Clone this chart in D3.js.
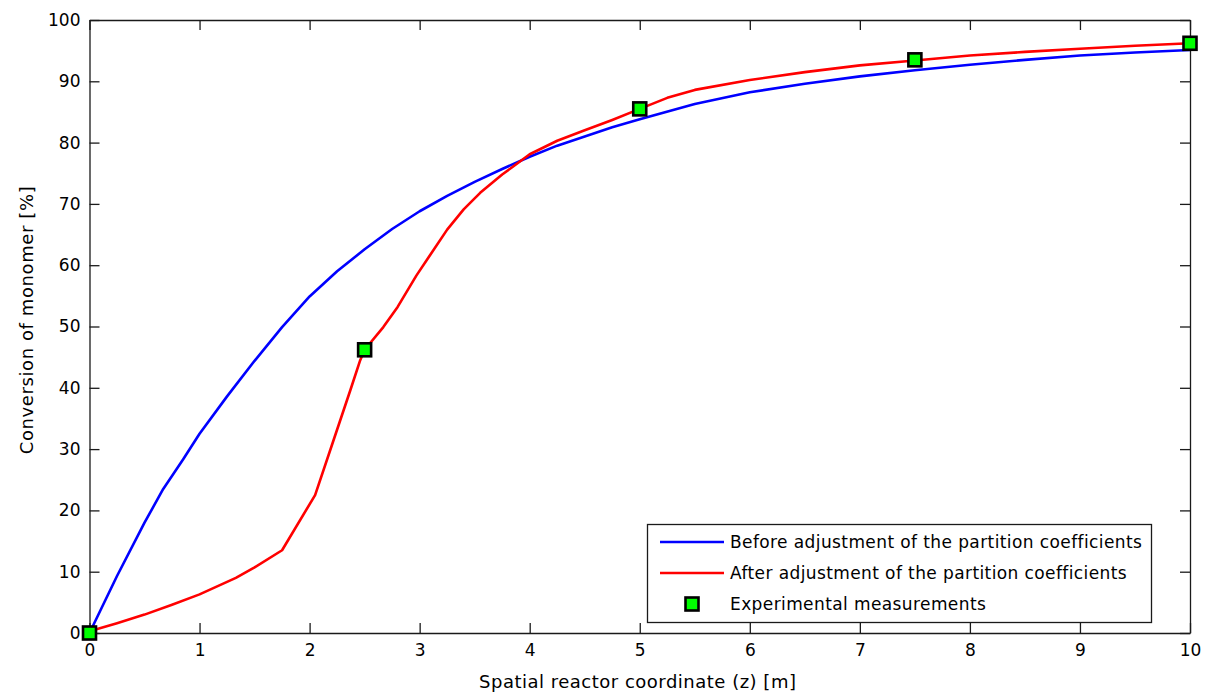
<!DOCTYPE html>
<html>
<head>
<meta charset="utf-8">
<script src="https://cdn.jsdelivr.net/npm/d3@7"></script>
<style>
  html, body { margin: 0; padding: 0; background: #fff; }
  svg { display: block; }
  text { font-family: "DejaVu Sans", "Liberation Sans", Arial, sans-serif; fill: #000; }
</style>
</head>
<body>
<svg id="chart" width="1206" height="696"></svg>
<script>
// Monomer conversion along the reactor, before and after adjusting the partition coefficients
const beforeZ = [0, 0.25, 0.5, 0.67, 0.85, 1, 1.25, 1.5, 1.75, 2, 2.25, 2.5, 2.75, 3, 3.25, 3.5, 3.75, 4, 4.25, 4.5, 4.75, 5, 5.5, 6, 6.5, 7, 7.5, 8, 8.5, 9, 9.5, 10];
const beforeConv = [0, 9.3, 18, 23.5, 28.3, 32.5, 38.6, 44.4, 49.9, 54.9, 59.0, 62.6, 65.9, 68.8, 71.3, 73.6, 75.7, 77.7, 79.5, 81.0, 82.5, 83.8, 86.3, 88.2, 89.6, 90.8, 91.8, 92.7, 93.5, 94.2, 94.7, 95.1];

const afterZ = [0, 0.25, 0.5, 0.75, 1, 1.33, 1.5, 1.75, 2.05, 2.2, 2.37, 2.46, 2.5, 2.67, 2.8, 2.97, 3.1, 3.25, 3.4, 3.55, 3.75, 3.85, 4, 4.25, 4.5, 4.75, 5, 5.25, 5.5, 6, 6.5, 7, 7.5, 8, 8.5, 9, 9.5, 10];
const afterConv = [0.3, 1.6, 3.0, 4.6, 6.3, 9.0, 10.7, 13.5, 22.5, 30.5, 39.6, 44.5, 46.2, 49.9, 53.2, 58.3, 61.8, 65.8, 69.1, 71.8, 74.8, 76.1, 78.1, 80.3, 82.0, 83.7, 85.5, 87.3, 88.6, 90.2, 91.5, 92.6, 93.4, 94.2, 94.8, 95.3, 95.8, 96.2];

const measZ = [0, 2.5, 5, 7.5, 10];
const measConv = [0, 46.2, 85.5, 93.5, 96.2];

const xTicks = [0, 1, 2, 3, 4, 5, 6, 7, 8, 9, 10];
const yTicks = [0, 10, 20, 30, 40, 50, 60, 70, 80, 90, 100];

const legendLabels = [
  "Before adjustment of the partition coefficients",
  "After adjustment of the partition coefficients",
  "Experimental measurements"
];

const svg = d3.select("#chart");
const plotLeft = 89.5, plotRight = 1190, plotTop = 20, plotBottom = 633;

const x = d3.scaleLinear().domain([0, 10]).range([plotLeft, plotRight]);
const y = d3.scaleLinear().domain([0, 100]).range([plotBottom, plotTop]);

const axisColor = "#1a1a1a";
const tickLen = 10;
const fontStack = '"DejaVu Sans", "Liberation Sans", Arial, sans-serif';

// Curves
const line = d3.line().x(d => x(d[0])).y(d => y(d[1]));
const plot = svg.append("g");
plot.append("path")
  .datum(d3.zip(beforeZ, beforeConv))
  .attr("d", line).attr("fill", "none")
  .attr("stroke", "#0000ff").attr("stroke-width", 2.6).attr("stroke-linejoin", "round");
plot.append("path")
  .datum(d3.zip(afterZ, afterConv))
  .attr("d", line).attr("fill", "none")
  .attr("stroke", "#ff0000").attr("stroke-width", 2.6).attr("stroke-linejoin", "round");

// Axes (ticks point inward, box on all four sides)
const fmt = d3.format("d");
const gx = svg.append("g").attr("transform", `translate(0,${plotBottom})`)
  .call(d3.axisBottom(x).tickValues(xTicks).tickFormat(fmt).tickSizeInner(-tickLen).tickSizeOuter(0).tickPadding(11));
const gxTop = svg.append("g").attr("transform", `translate(0,${plotTop})`)
  .call(d3.axisTop(x).tickValues(xTicks).tickFormat("").tickSizeInner(-tickLen).tickSizeOuter(0));
const gy = svg.append("g").attr("transform", `translate(${plotLeft},0)`)
  .call(d3.axisLeft(y).tickValues(yTicks).tickFormat(fmt).tickSizeInner(-tickLen).tickSizeOuter(0).tickPadding(9));
const gyRight = svg.append("g").attr("transform", `translate(${plotRight},0)`)
  .call(d3.axisRight(y).tickValues(yTicks).tickFormat("").tickSizeInner(-tickLen).tickSizeOuter(0));

[gx, gxTop, gy, gyRight].forEach(g => {
  g.select(".domain").attr("stroke", axisColor).attr("stroke-width", 1.3);
  g.selectAll(".tick line").attr("stroke", axisColor).attr("stroke-width", 1.3);
  g.selectAll(".tick text").attr("font-size", 17).attr("fill", "#000")
    .style("font-family", fontStack);
});

// Measurement markers
svg.append("g").selectAll("rect")
  .data(d3.zip(measZ, measConv))
  .join("rect")
  .attr("x", d => x(d[0]) - 6.5).attr("y", d => y(d[1]) - 6.5)
  .attr("width", 13).attr("height", 13)
  .attr("fill", "#00ff00").attr("stroke", "#000").attr("stroke-width", 2.6);

// Axis titles
svg.append("text")
  .attr("x", (plotLeft + plotRight) / 2 - 2).attr("y", 688)
  .attr("text-anchor", "middle").attr("font-size", 18)
  .attr("letter-spacing", 0.5)
  .text("Spatial reactor coordinate (z) [m]");
svg.append("text")
  .attr("transform", `translate(33,320) rotate(-90)`)
  .attr("text-anchor", "middle").attr("font-size", 18)
  .attr("letter-spacing", 0.6)
  .text("Conversion of monomer [%]");

// Legend
const lg = svg.append("g");
lg.append("rect")
  .attr("x", 647.5).attr("y", 524.5).attr("width", 504).attr("height", 98)
  .attr("fill", "#fff").attr("stroke", axisColor).attr("stroke-width", 1.3);
const rowY = [542, 573, 604];
const colors = ["#0000ff", "#ff0000"];
colors.forEach((c, i) => {
  lg.append("line")
    .attr("x1", 660).attr("x2", 724).attr("y1", rowY[i]).attr("y2", rowY[i])
    .attr("stroke", c).attr("stroke-width", 2.6);
});
lg.append("rect")
  .attr("x", 692 - 6.5).attr("y", rowY[2] - 6.5).attr("width", 13).attr("height", 13)
  .attr("fill", "#00ff00").attr("stroke", "#000").attr("stroke-width", 2.6);
legendLabels.forEach((t, i) => {
  lg.append("text")
    .attr("x", 730).attr("y", rowY[i] + 6)
    .attr("font-size", 17).attr("letter-spacing", 0.4)
    .text(t);
});
</script>
</body>
</html>
